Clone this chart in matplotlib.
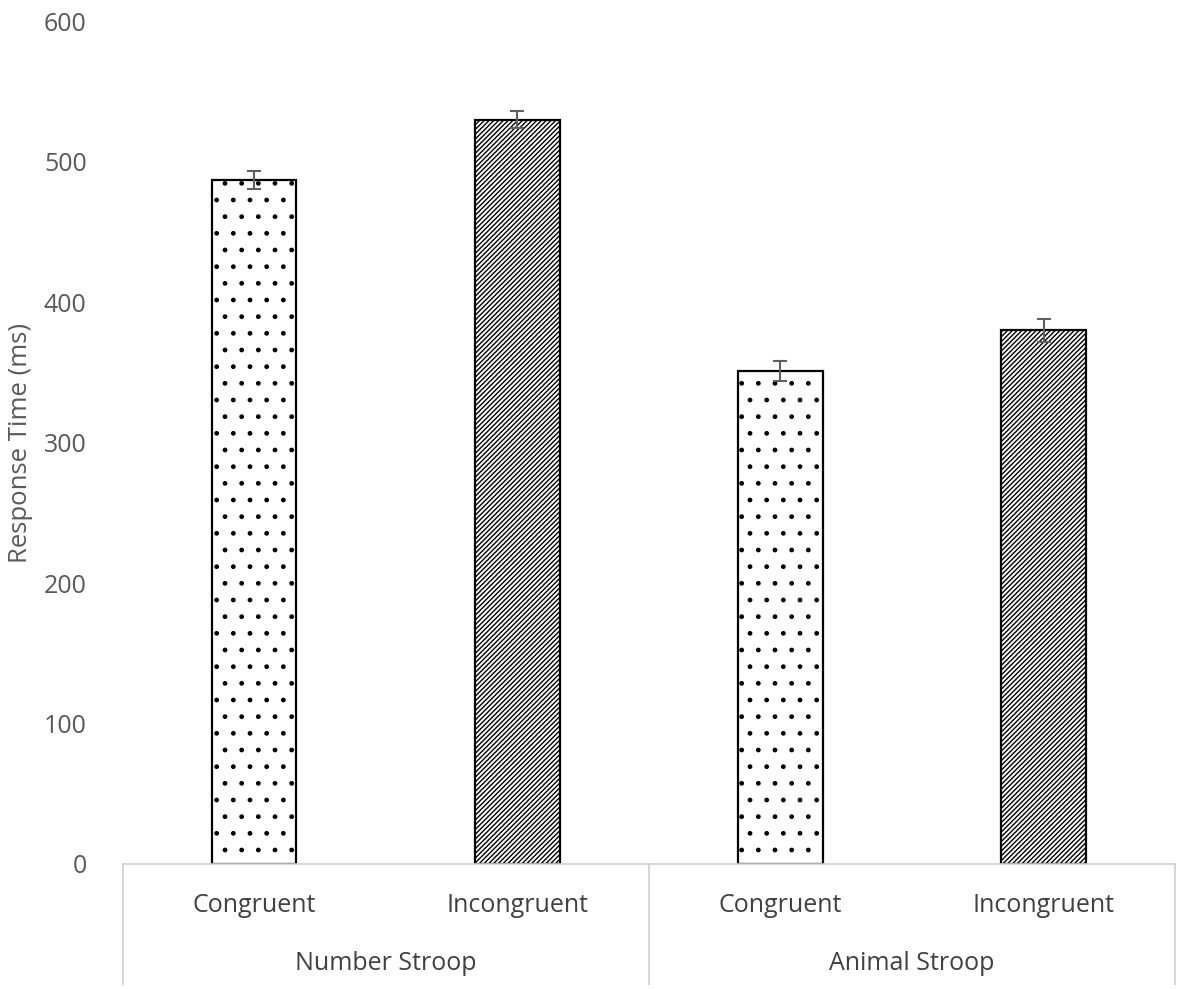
import matplotlib
matplotlib.use("Agg")
import matplotlib.pyplot as plt

groups = ["Number Stroop", "Animal Stroop"]
conditions = ["Congruent", "Incongruent", "Congruent", "Incongruent"]
values = [487, 530, 351, 380]
errors = [6.5, 6, 7, 8]
hatches = [".", "///////", ".", "///////"]

plt.rcParams['font.family'] = ['Open Sans', 'DejaVu Sans']
plt.rcParams['hatch.linewidth'] = 1.0
fig = plt.figure(figsize=(11.81, 9.89), dpi=100)
ax = fig.add_axes([0.104, 0.1264, 0.891, 0.852])
x = list(range(len(values)))
for xi, v, e, h in zip(x, values, errors, hatches):
    ax.bar(xi, v, width=0.32, color="white", edgecolor="black", linewidth=1.6, hatch=h)
    ax.errorbar(xi, v, yerr=e, color="#606060", capsize=5, elinewidth=1.5, capthick=1.5)
ax.set_xlim(-0.5, 3.5)
ax.set_ylim(0, 600)
ax.set_yticks(range(0, 601, 100))
ax.tick_params(axis='y', length=0, labelsize=18, colors="#595959", pad=26)
ax.set_xticks([])
ax.set_ylabel("Response Time (ms)", fontsize=18.5, color="#595959", labelpad=8)
for s in ["top", "right", "left"]:
    ax.spines[s].set_visible(False)
ax.spines["bottom"].set_color("#d0d0d0")
ax.spines["bottom"].set_linewidth(1.2)
trans = ax.get_xaxis_transform()
for xi, c in zip(x, conditions):
    ax.text(xi, -0.049, c, transform=trans, ha="center", va="center", fontsize=18, color="#404040")
for gi, g in enumerate(groups):
    ax.text(gi * 2 + 0.5, -0.118, g, transform=trans, ha="center", va="center", fontsize=18, color="#404040")
for xv in [-0.5, 1.5, 3.5]:
    ax.plot([xv, xv], [0, -0.143], transform=trans, color="#d0d0d0", lw=1.2, clip_on=False)
fig.savefig("out.png", dpi=100)
